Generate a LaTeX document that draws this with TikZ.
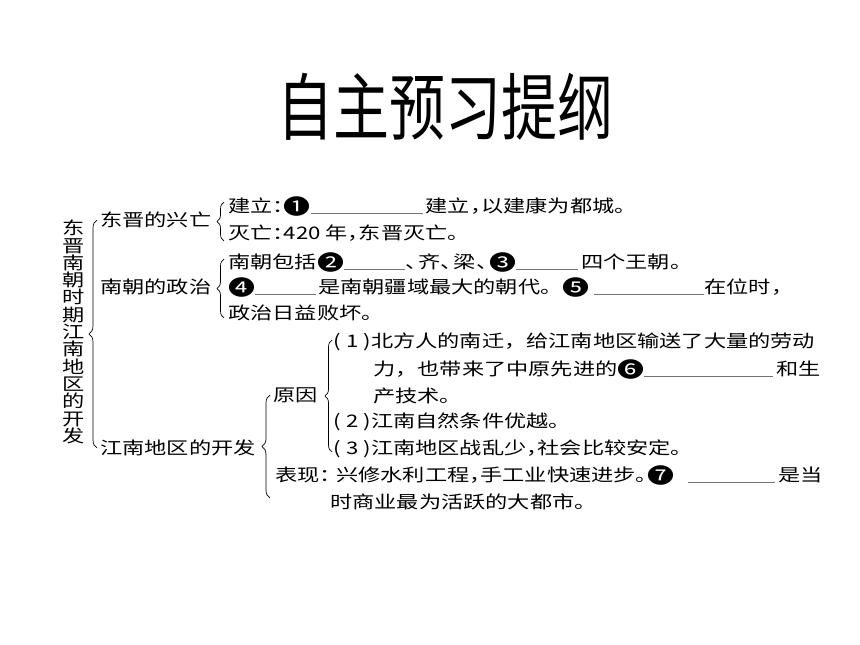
\documentclass[tikz,border=0pt]{standalone}
\usepackage{fontspec}
\usetikzlibrary{decorations.pathreplacing}
\newfontfamily\cjk{Noto Sans CJK SC}
\newcommand{\blank}[1]{{\color{black!55}\rule[-2pt]{#1}{0.6pt}}}
\newcommand{\hw}[2][0.5em]{\makebox[#1][l]{#2}}
\newcommand{\num}[1]{\makebox[38pt][s]{(\hfil#1\hfil)}}
\newcommand{\cn}[1]{\raisebox{-2.5pt}{\fontsize{27}{27}\selectfont #1}}

\begin{document}
\begin{tikzpicture}[x=1pt,y=-1pt,
        row node/.style={anchor=west,inner sep=0pt,yscale=0.78,font=\cjk\fontsize{22.2}{28}\selectfont},
        brace line/.style={decorate,decoration={brace,amplitude=#1},line width=0.7pt},
        brace line/.default=7pt]

        \fill[white] (0,0) rectangle (860,645);
        \useasboundingbox (0,0) rectangle (860,645);

        \node[inner sep=0pt,yscale=1.3,font=\cjk\fontsize{56}{60}\selectfont] (t) at (445,107) {自主预习提纲};

        \node[inner sep=0pt,align=center,yscale=0.78,font=\cjk\fontsize{22.2}{22.2}\selectfont] (v) at (74,332)
        {东\\晋\\南\\朝\\时\\期\\江\\南\\地\\区\\的\\开\\发};

        % first level
        \node[row node] (a) at (100,220) {东晋的兴亡};
        \node[row node] (b) at (100,287) {南朝的政治};
        \node[row node] (c) at (100,448) {江南地区的开发};

        % east jin
        \node[row node] (a1) at (228,206) {建立\hw{：}\cn{❶}\blank{112pt}\hspace{3pt}建立\hw{，}以建康为都城。};
        \node[row node] (a2) at (228,233) {灭亡\hw{：}420 年\hw{，}东晋灭亡。};

        % southern dynasties
        \node[row node] (b1) at (228,262) {南朝包括\cn{❷}\blank{61pt}\hw[0.6em]{、}齐\hw[0.6em]{、}梁\hw[0.6em]{、}\cn{❸}\blank{62pt}\hspace{3pt}四个王朝。};
        \node[row node] (b2) at (228,287) {\cn{❹}\blank{61pt}\hspace{2pt}是南朝疆域最大的朝代。\cn{❺}\hspace{5pt}\blank{110pt}在位时，};
        \node[row node] (b3) at (228,313) {政治日益败坏。};

        % jiangnan
        \node[row node] (c1) at (273,395) {原因};
        \node[row node] (r1) at (333,342) {\num{1}北方人的南迁，给江南地区输送了大量的劳动};
        \node[row node] (r2) at (373,369) {力，也带来了中原先进的\cn{❻}\blank{129pt}\hspace{3pt}和生};
        \node[row node] (r3) at (373,396) {产技术。};
        \node[row node] (r4) at (333,422) {\num{2}江南自然条件优越。};
        \node[row node] (r5) at (333,449) {\num{3}江南地区战乱少\hw{，}社会比较安定。};
        \node[row node] (c6) at (275,475) {表现\hw[0.75em]{：}兴修水利工程\hw{，}手工业快速进步\hw{。}\cn{❼}\hspace{14pt}\blank{87pt}\hspace{3pt}是当};
        \node[row node] (c7) at (330,502) {时商业最为活跃的大都市。};

        % braces
        \draw[brace line=8pt] ([xshift=-3pt]c.west) -- ([xshift=-3pt]a.west);
        \draw[brace line] ([xshift=-4pt,yshift=-8pt]a2.west) -- ([xshift=-4pt,yshift=4pt]a1.west);
        \draw[brace line] ([xshift=-4pt,yshift=-5pt]b3.west) -- ([xshift=-4pt,yshift=3pt]b1.west);
        \draw[brace line=8pt] ([xshift=-5pt,yshift=-23pt]c6.west) -- ([xshift=-3pt]c1.west);
        \draw[brace line] ([xshift=-1pt,yshift=-3pt]r5.west) -- ([xshift=-1pt,yshift=2pt]r1.west);
      \end{tikzpicture}
\end{document}
